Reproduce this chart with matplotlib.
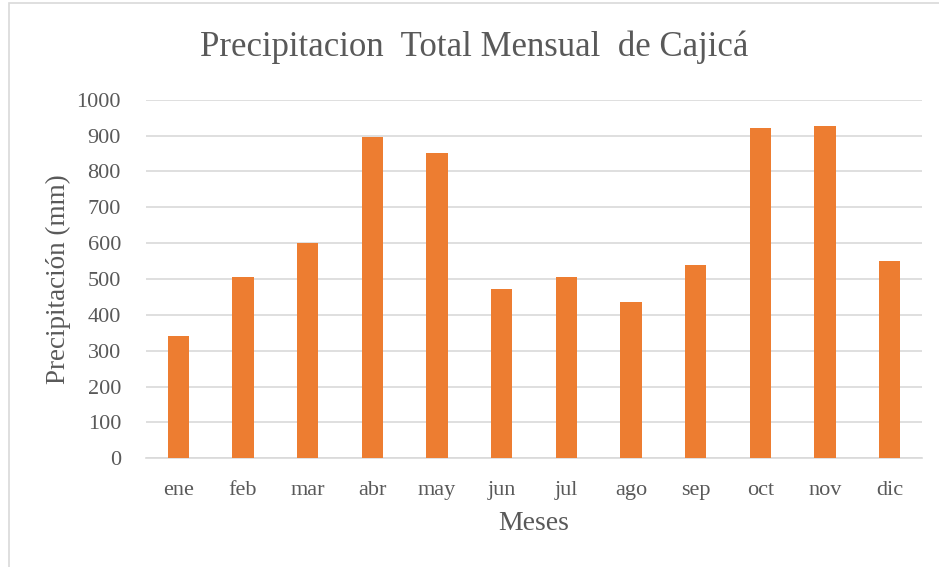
import matplotlib
matplotlib.use("Agg")
import matplotlib.pyplot as plt
from matplotlib.patches import Rectangle

months = ["ene", "feb", "mar", "abr", "may", "jun", "jul", "ago", "sep", "oct", "nov", "dic"]
precip = [342, 505, 600, 895, 852, 473, 505, 436, 540, 922, 928, 550]
yticks = [0, 100, 200, 300, 400, 500, 600, 700, 800, 900, 1000]

plt.rcParams['font.family'] = ['Liberation Serif', 'DejaVu Serif']
txt = '#595959'

W, H = 939, 567
fig = plt.figure(figsize=(W / 100, H / 100), dpi=100)
fig.patch.set_facecolor('white')

# outer chart border
fig.patches.append(Rectangle((9 / W, -0.01), 1.0, 1 - 3 / H + 0.01, transform=fig.transFigure,
                             fill=False, edgecolor='#d9d9d9', linewidth=1.2))

left, right = 146 / W, 922 / W
bottom, top = (H - 458.3) / H, (H - 99.7) / H
ax = fig.add_axes([left, bottom, right - left, top - bottom])

x = list(range(len(months)))
ax.bar(x, precip, width=0.33, color='#ED7D31', zorder=3)
ax.set_xlim(-0.5, len(months) - 0.5)
ax.set_ylim(0, 1000)
ax.set_yticks(yticks)
ax.set_yticklabels([str(v) for v in yticks])
ax.set_xticks(x)
ax.set_xticklabels(months)

ax.grid(axis='y', color='#d9d9d9', linewidth=1.2, zorder=0)
for s in ['top', 'right', 'left']:
    ax.spines[s].set_visible(False)
ax.spines['bottom'].set_color('#d9d9d9')
ax.spines['bottom'].set_linewidth(1.2)
ax.tick_params(axis='y', length=0, labelsize=16, labelcolor=txt, pad=18)
ax.tick_params(axis='x', length=0, labelsize=16, labelcolor=txt, pad=16)

ax.set_ylabel('Precipitación (mm)', fontsize=19.5, color=txt, labelpad=4)
ax.set_xlabel('Meses', fontsize=20, color=txt, labelpad=8)
fig.text(0.5 * (9 / W + 1), (H - 47) / H, 'Precipitacion  Total Mensual  de Cajicá',
         ha='center', va='center', fontsize=25, color=txt)

fig.savefig('out.png', dpi=100, facecolor='white')
